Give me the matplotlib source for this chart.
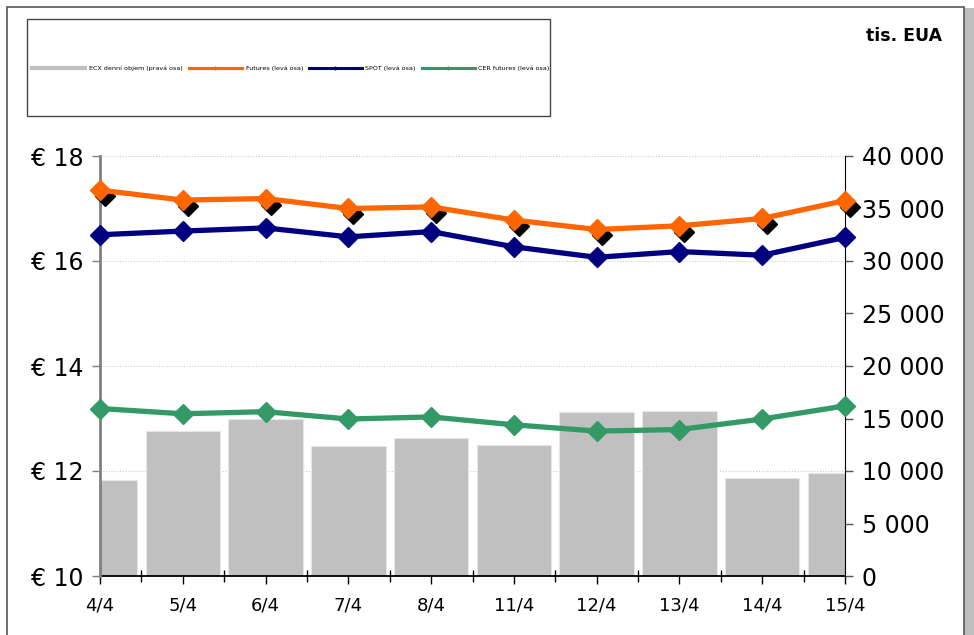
import numpy as np
import matplotlib.pyplot as plt
from matplotlib.patches import Rectangle
from matplotlib.lines import Line2D
from matplotlib.ticker import FuncFormatter, MultipleLocator
import matplotlib.transforms as mtransforms

plt.rcParams['font.family'] = ['DejaVu Sans']

# ---- data
dates = ['4/4', '5/4', '6/4', '7/4', '8/4', '11/4', '12/4', '13/4', '14/4', '15/4']
volume = [9140, 13810, 14950, 12380, 13170, 12480, 15590, 15740, 9300, 9840]   # tis. EUA, right axis
futures = [17.35, 17.16, 17.19, 17.00, 17.03, 16.78, 16.60, 16.67, 16.81, 17.15]
spot = [16.50, 16.57, 16.63, 16.46, 16.56, 16.27, 16.07, 16.18, 16.11, 16.45]
cer = [13.19, 13.09, 13.13, 12.99, 13.03, 12.88, 12.76, 12.79, 12.99, 13.24]

labels = ['ECX denní objem (pravá osa)', 'Futures (levá osa)', 'SPOT (levá osa)',
          'CER futures (levá osa)']

C_BAR = '#C0C0C0'
C_FUT = '#FF6600'
C_SPOT = '#000080'
C_CER = '#339966'

W, H = 974, 635
fig = plt.figure(figsize=(W / 100, H / 100), dpi=100)

# outer frame + shadow on the right
fig.patches.append(Rectangle((964 / W, 0), 10 / W, 1 - 8 / H, transform=fig.transFigure,
                             facecolor='#bdbdbd', edgecolor='none', zorder=-3))
fig.patches.append(Rectangle((7 / W, -0.02), 957 / W, 1 - 7 / H + 0.02, transform=fig.transFigure,
                             facecolor='white', edgecolor='#555555', lw=1.2, zorder=-2))
# legend box
fig.patches.append(Rectangle((27 / W, 1 - 116 / H), 523 / W, 97 / H, transform=fig.transFigure,
                             facecolor='white', edgecolor='#444444', lw=1.0, zorder=-1))

ax = fig.add_axes([100 / W, 1 - 576 / H, 745 / W, 420 / H])
ax.patch.set_alpha(0)
x = np.arange(len(dates))

# bars on the right-hand scale
ax.bar(x, volume, width=0.9, color=C_BAR, edgecolor='#e6e6e6', linewidth=0.8, zorder=2)
ax.set_ylim(0, 40000)
ax.set_xlim(0, len(dates) - 1)
ax.set_axisbelow(True)

ax.set_xticks(x)
ax.set_xticklabels(dates)
ax.set_xticks(x[:-1] + 0.5, minor=True)
ax.tick_params(axis='x', which='major', direction='out', length=6, width=1, pad=9, labelsize=13)
ax.tick_params(axis='x', which='minor', direction='inout', length=9, width=1)

ax.spines['top'].set_visible(False)
ax.spines['left'].set_visible(False)
ax.spines['right'].set_color('black')
ax.spines['bottom'].set_linewidth(1.3)

# lines on the left-hand scale
ax2 = ax.twinx()
ax.yaxis.tick_right()
ax.yaxis.remove_overlapping_locs = False
ax.yaxis.set_major_locator(MultipleLocator(5000))
ax.yaxis.set_minor_locator(MultipleLocator(10000))
ax.yaxis.set_major_formatter(FuncFormatter(lambda v, p: f'{int(v):,}'.replace(',', ' ')))
ax.tick_params(axis='y', direction='out', length=6, width=1, color='#555555', labelsize=17, pad=6)
ax.tick_params(axis='y', which='minor', length=0)
ax.grid(axis='y', which='minor', color='#cccccc', linestyle=(0, (1, 1.5)), lw=0.8, zorder=0)

ax2.yaxis.tick_left()
ax2.set_ylim(10, 18)
ax2.set_xlim(0, len(dates) - 1)
ax2.yaxis.set_major_locator(MultipleLocator(2))
ax2.yaxis.set_major_formatter(FuncFormatter(lambda v, p: f'€ {int(v)}'))
ax2.tick_params(axis='y', direction='out', length=6, width=1, color='#808080', labelsize=17, pad=6)
for s in ['top', 'right', 'bottom']:
    ax2.spines[s].set_visible(False)
ax2.spines['left'].set_color('#808080')
ax2.spines['left'].set_linewidth(2)

shadow = mtransforms.offset_copy(ax2.transData, fig=fig, x=5, y=-6, units='dots')
ax2.plot(x, futures, linestyle='none', marker='D', ms=10, color='black',
         transform=shadow, zorder=3, clip_on=False)
ax2.plot(x, futures, color=C_FUT, lw=3.8, marker='D', ms=10, zorder=4, clip_on=False)
ax2.plot(x, spot, color=C_SPOT, lw=3.8, marker='D', ms=10, zorder=4, clip_on=False)
ax2.plot(x, cer, color=C_CER, lw=3.8, marker='D', ms=10, zorder=4, clip_on=False)

# legend
handles = [
    Line2D([], [], color=C_BAR, lw=3),
    Line2D([], [], color=C_FUT, lw=2.2, marker='+', ms=3, mew=1),
    Line2D([], [], color=C_SPOT, lw=2.2, marker='+', ms=3, mew=1),
    Line2D([], [], color=C_CER, lw=2.2, marker='+', ms=3, mew=1),
]
leg = fig.legend(handles, labels, loc='center', bbox_to_anchor=(291 / W, 1 - 68 / H),
                 ncol=4, frameon=False, fontsize=4.6, handlelength=8.3, handletextpad=0.6,
                 columnspacing=0.9)

fig.text(942 / W, 1 - 36 / H, 'tis. EUA', ha='right', va='center', fontsize=12.5,
         fontweight='bold')

fig.savefig('out.png', dpi=100)
